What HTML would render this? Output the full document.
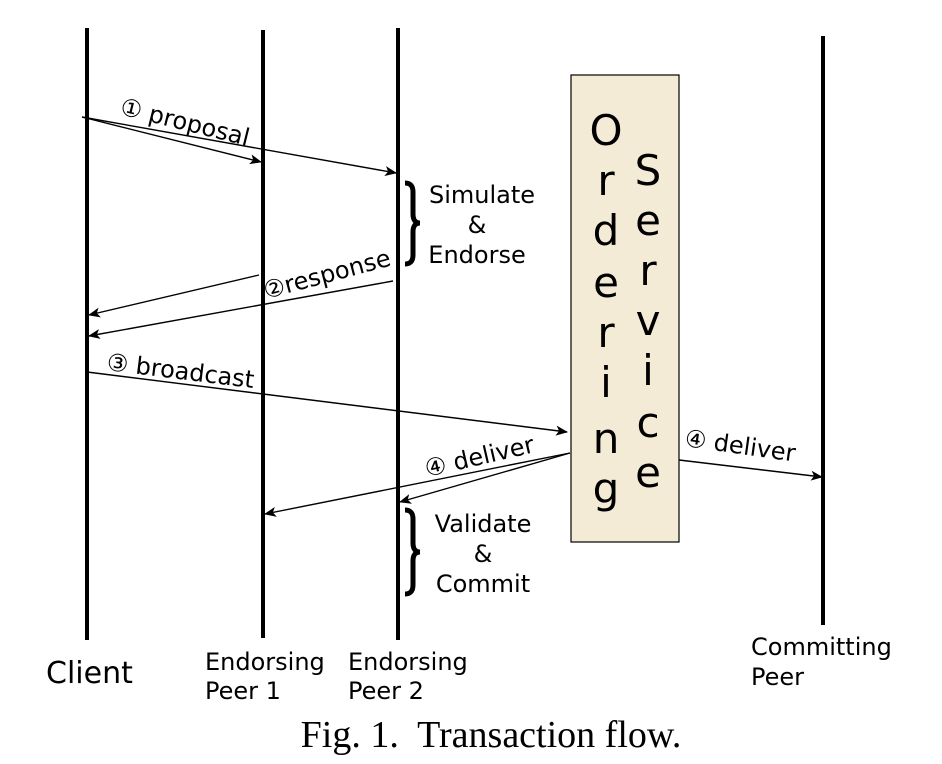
<!DOCTYPE html>
<html><head><meta charset="utf-8"><style>
html,body{margin:0;padding:0;background:#fff;}
svg{display:block;}
text{font-family:"DejaVu Sans","Liberation Sans",sans-serif;fill:#000;}
</style></head><body>
<svg width="942" height="764" viewBox="0 0 942 764" xmlns="http://www.w3.org/2000/svg">
<defs>
<marker id="a" viewBox="0 0 12 10" refX="11" refY="5" markerWidth="12" markerHeight="10" markerUnits="userSpaceOnUse" orient="auto">
<path d="M0,0 L12,5 L0,10 L3,5 Z" fill="#000"/>
</marker>
</defs>
<rect x="571" y="75" width="108" height="467" fill="#f3ebd6" stroke="#000" stroke-width="1.2"/>
<g stroke="#000" stroke-width="4">
<line x1="87" y1="28" x2="87" y2="640"/>
<line x1="263" y1="30" x2="263" y2="638"/>
<line x1="398" y1="28" x2="398" y2="640"/>
<line x1="823" y1="36" x2="823" y2="625"/>
</g>
<g stroke="#000" stroke-width="1.4" fill="none" marker-end="url(#a)">
<line x1="82" y1="117" x2="261" y2="162"/>
<line x1="82" y1="117" x2="396" y2="173"/>
<line x1="259" y1="275" x2="89" y2="315"/>
<line x1="393" y1="281" x2="89" y2="336"/>
<line x1="87" y1="372" x2="567" y2="432"/>
<line x1="570" y1="453" x2="265" y2="514"/>
<line x1="570" y1="453" x2="400" y2="502"/>
<line x1="679" y1="460" x2="822" y2="477"/>
</g>
<g font-size="24">
<text transform="translate(119,114) rotate(14)">① proposal</text>
<text transform="translate(266,299) rotate(-15)">②response</text>
<text transform="translate(106,370) rotate(7)">③ broadcast</text>
<text transform="translate(427,477) rotate(-13)">④ deliver</text>
<text transform="translate(684,446) rotate(8)">④ deliver</text>
</g>
<g font-size="42" text-anchor="middle">
<text x="606" y="145">O</text><text x="606" y="195">r</text><text x="606" y="245">d</text><text x="606" y="297">e</text><text x="606" y="347">r</text><text x="606" y="397">i</text><text x="606" y="453">n</text><text x="606" y="503">g</text>
<text x="648" y="185">S</text><text x="648" y="235">e</text><text x="648" y="285">r</text><text x="648" y="335">v</text><text x="648" y="385">i</text><text x="648" y="437">c</text><text x="648" y="487">e</text>
</g>
<path d="M405,183 Q413,183 413,192 L413,214 Q413,223 420,223 Q413,223 413,232 L413,255 Q413,264 405,264" stroke="#000" stroke-width="5" fill="none"/>
<path d="M405,510 Q413,510 413,519 L413,543 Q413,552 420,552 Q413,552 413,561 L413,585 Q413,594 405,594" stroke="#000" stroke-width="5" fill="none"/>
<g font-size="24" text-anchor="middle">
<text x="482" y="203">Simulate</text><text x="477" y="233">&amp;</text><text x="477" y="263">Endorse</text>
<text x="483" y="532">Validate</text><text x="483" y="562">&amp;</text><text x="483" y="592">Commit</text>
</g>
<text x="46" y="683" font-size="30">Client</text>
<g font-size="24">
<text x="205" y="670">Endorsing</text><text x="205" y="699">Peer 1</text>
<text x="348" y="670">Endorsing</text><text x="348" y="699">Peer 2</text>
<text x="751" y="655">Committing</text><text x="751" y="685">Peer</text>
</g>
<text x="491" y="747" text-anchor="middle" font-size="38" style="font-family:'Liberation Serif',serif" xml:space="preserve">Fig. 1.  Transaction flow.</text>
</svg>
</body></html>
